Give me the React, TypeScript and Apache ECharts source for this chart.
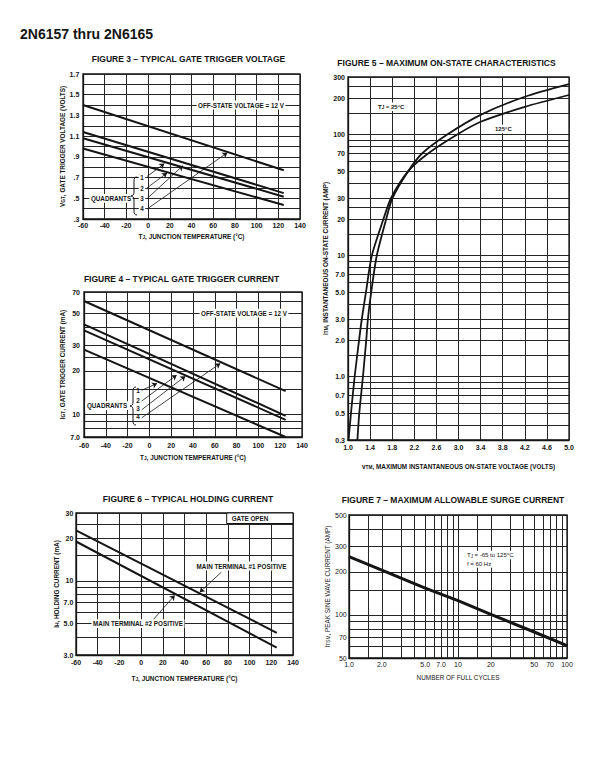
import React, { useEffect, useRef } from 'react';
import * as echarts from 'echarts';

const FONT = "'Liberation Sans', Arial, Helvetica, sans-serif";
const INK = '#151515';
const GRID_INK = '#262626';

// ---------- shared temperature axis ----------
const tempGrid = [-60, -40, -20, 0, 20, 40, 60, 80, 100, 120, 140];
const tempLabels = [-60, -40, -20, 0, 20, 40, 60, 80, 100, 120, 140];

// ---------- Figure 3: typical gate trigger voltage ----------
const f3Grid = [0.3, 0.4, 0.5, 0.6, 0.7, 0.8, 0.9, 1.0, 1.1, 1.2, 1.3, 1.4, 1.5, 1.6, 1.7];
const f3Labels = [0.3, 0.5, 0.7, 0.9, 1.1, 1.3, 1.5, 1.7];
const f3OffState = [[-60, 1.40], [125, 0.77]];
const f3LineA = [[-60, 1.14], [125, 0.55]];
const f3LineB = [[-60, 1.08], [125, 0.515]];
const f3LineC = [[-60, 0.98], [125, 0.435]];
const f3Arrows = [
  [[-1, 0.71], [15, 0.835]],
  [[-1, 0.6], [17.5, 0.745]],
  [[-1, 0.496], [32, 0.815]],
  [[-1, 0.396], [73, 0.94]],
];

// ---------- Figure 4: typical gate trigger current ----------
const f4Grid = [7, 8, 9, 10, 15, 20, 25, 30, 40, 50, 60, 70];
const f4Labels = [7, 10, 20, 30, 50, 70];
const f4OffState = [[-60, 60.7], [125, 14.5]];
const f4LineA = [[-60, 41.9], [125, 9.8]];
const f4LineB = [[-60, 38.1], [125, 9.2]];
const f4LineC = [[-60, 28.0], [125, 7.0]];
const f4Arrows = [
  [[-7, 14.7], [7, 16.4]],
  [[-7, 12.4], [25, 18.7]],
  [[-7, 10.8], [33, 18.4]],
  [[-7, 9.5], [65, 22.5]],
];

// ---------- Figure 5: maximum on-state characteristics ----------
const f5VGrid = [1.0, 1.4, 1.8, 2.2, 2.6, 3.0, 3.4, 3.8, 4.2, 4.6, 5.0];
const f5VLabels = [1.0, 1.4, 1.8, 2.2, 2.6, 3.0, 3.4, 3.8, 4.2, 4.6, 5.0];
const f5IGrid = [0.3, 0.4, 0.5, 0.6, 0.7, 0.8, 0.9, 1, 1.5, 2, 2.5, 3, 4, 5, 6, 7, 8, 9, 10, 15, 20, 25, 30, 40, 50, 60, 70, 80, 90, 100, 150, 200, 250, 300];
const f5ILabels = [0.3, 0.5, 0.7, 1, 2, 3, 5, 7, 10, 20, 30, 50, 70, 100, 200, 300];
const f5Tj25 = [[1.17, 0.3], [1.204, 0.5], [1.27, 1], [1.33, 2], [1.36, 3], [1.42, 5], [1.52, 10], [1.69, 20], [1.805, 30], [2.09, 50], [2.34, 70], [2.79, 100], [3.4, 146], [4.2, 206], [5.0, 262]];
const f5Tj125 = [[1.01, 0.3], [1.054, 0.5], [1.12, 1], [1.2, 2], [1.25, 3], [1.325, 5], [1.43, 10], [1.64, 20], [1.78, 30], [2.09, 50], [2.45, 70], [2.97, 100], [3.4, 128], [4.2, 170], [5.0, 213]];

// ---------- Figure 6: typical holding current ----------
const f6Grid = [3, 4, 5, 6, 7, 8, 9, 10, 15, 20, 25, 30];
const f6Labels = [3, 5, 7, 10, 20, 30];
const f6MT1 = [[-60, 22.6], [125, 4.3]];
const f6MT2 = [[-60, 18.9], [125, 3.38]];
const f6Arrows = [
  [[74, 11.5], [54, 8.3]],
  [[11, 5.3], [31, 7.9]],
];

// ---------- Figure 7: maximum allowable surge current ----------
const f7NGrid = [1, 1.5, 2, 3, 4, 5, 6, 7, 8, 9, 10, 15, 20, 30, 40, 50, 60, 70, 80, 90, 100];
const f7NLabels = [1, 2, 5, 7, 10, 20, 50, 70, 100];
const f7IGrid = [50, 60, 70, 80, 90, 100, 150, 200, 300, 400, 500];
const f7ILabels = [50, 70, 100, 200, 300, 500];
const f7Surge = [[1, 256], [2, 206], [5, 154], [10, 126], [20, 101], [50, 76], [100, 61]];

// brace shape for the "QUADRANTS" callouts
const Brace = echarts.graphic.extendPath(
  'M6,0 C3.6,0 3,1.5 3,4 L3,15 C3,17.5 2,19 0,19 C2,19 3,20.5 3,23 L3,34 C3,36.5 3.6,38 6,38',
  {}
);
echarts.graphic.registerShape('brace', Brace);

const fmtTemp = (v: number) => String(Math.round(v));
const fmtVolt3 = (v: number) => {
  const k = Math.round(v * 10);
  return v < 1 ? '.' + k : (k / 10).toFixed(1);
};
const fmtCurr = (v: number) => (v < 10 ? v.toFixed(1) : String(Math.round(v)));
const fmtOne = (v: number) => v.toFixed(1);

const RICH = (size: number, weight: string) => ({
  s: { fontSize: size * 0.75, fontWeight: weight, fontFamily: FONT, color: INK, verticalAlign: 'bottom', padding: [2, 0, 0, 0] },
});

type AxisCfg = {
  grid: number;
  type: 'value' | 'log';
  min: number;
  max: number;
  ticks: number[];
  labels: number[];
  fmt: (v: number) => string;
  name: string;
  nameGap: number;
  margin: number;
  weight?: string;
  labelSize?: number;
};

function axisOf(c: AxisCfg, position: 'bottom' | 'left') {
  const weight = c.weight || 'bold';
  const ax: any = {
    gridIndex: c.grid,
    type: c.type,
    min: c.min,
    max: c.max,
    position,
    axisLine: { show: true, onZero: false, lineStyle: { color: INK, width: 1.3 } },
    axisTick: { show: false, customValues: c.ticks },
    axisLabel: {
      show: true,
      customValues: c.labels,
      formatter: c.fmt,
      margin: c.margin,
      color: INK,
      fontSize: c.labelSize || 7,
      fontWeight: weight,
      fontFamily: FONT,
      hideOverlap: false,
      showMinLabel: true,
      showMaxLabel: true,
    },
    splitLine: { show: true, lineStyle: { color: GRID_INK, width: 1 } },
    minorTick: { show: false },
    minorSplitLine: { show: false },
    name: c.name,
    nameLocation: 'middle',
    nameGap: c.nameGap,
    nameTextStyle: { color: INK, fontSize: 6.4, fontWeight: weight, fontFamily: FONT, rich: RICH(6.4, weight) },
  };
  if (c.type === 'log') ax.logBase = 10;
  return ax;
}

function lineSeries(x: number, data: number[][], width: number, extra: any = {}) {
  return {
    type: 'line',
    xAxisIndex: x,
    yAxisIndex: x,
    data,
    showSymbol: false,
    symbol: 'none',
    silent: true,
    z: 3,
    lineStyle: { color: INK, width },
    ...extra,
  };
}

function arrowMarks(arrows: number[][][]) {
  return {
    markLine: {
      silent: true,
      animation: false,
      symbol: ['none', 'arrow'],
      symbolSize: 5,
      label: { show: false },
      lineStyle: { color: INK, width: 0.8, type: 'solid' },
      emphasis: { disabled: true },
      data: arrows.map(([a, b]) => [{ coord: a }, { coord: b }]),
    },
  };
}

let measureCtx: CanvasRenderingContext2D | null = null;
function measure(text: string, size: number, weight: string) {
  if (!measureCtx) measureCtx = document.createElement('canvas').getContext('2d');
  const plain = text.replace(/\{s\|([^}]*)\}/g, '$1');
  if (!measureCtx) return plain.length * size * 0.6;
  measureCtx.font = `${weight} ${size}px ${FONT}`;
  return measureCtx.measureText(plain).width;
}

function txt(x: number, y: number, text: string, o: any = {}) {
  const size = o.size || 6.3;
  const weight = o.weight || 'bold';
  const align = o.align || 'center';
  const els: any[] = [];
  if (o.bg !== false) {
    const w = measure(text, size, weight) + 3;
    const h = size + 2.5;
    const left = align === 'left' ? x - 1.5 : x - w / 2;
    els.push({
      type: 'rect',
      z: 48,
      silent: true,
      shape: { x: left, y: y - h / 2, width: w, height: h },
      style: { fill: '#fff', stroke: 'none' },
    });
  }
  els.push({
    type: 'text',
    x,
    y,
    z: 50,
    silent: true,
    style: {
      text,
      fill: INK,
      fontSize: size,
      fontWeight: weight,
      fontFamily: FONT,
      align,
      verticalAlign: 'middle',
      rich: RICH(size, weight),
    },
  });
  return els;
}

function titleOf(text: string, cx: number, cy: number) {
  return {
    text,
    left: cx,
    top: cy - 5,
    textAlign: 'center',
    padding: 0,
    textStyle: { fontSize: 8.5, fontWeight: 'bold', color: INK, fontFamily: FONT },
  };
}

function buildOption() {
  const grids = [
    { left: 83, top: 74, width: 217, height: 145 },
    { left: 84, top: 292, width: 218, height: 145 },
    { left: 348, top: 77, width: 221, height: 363 },
    { left: 76, top: 513, width: 217, height: 142 },
    { left: 349, top: 515, width: 218, height: 143 },
  ].map((g) => ({ ...g, show: true, borderColor: INK, borderWidth: 1.3, backgroundColor: 'transparent', containLabel: false }));

  const xAxis = [
    axisOf({ grid: 0, type: 'value', min: -60, max: 140, ticks: tempGrid, labels: tempLabels, fmt: fmtTemp, name: 'T{s|J}, JUNCTION TEMPERATURE (°C)', nameGap: 13.5, margin: 2.8 }, 'bottom'),
    axisOf({ grid: 1, type: 'value', min: -60, max: 140, ticks: tempGrid, labels: tempLabels, fmt: fmtTemp, name: 'T{s|J}, JUNCTION TEMPERATURE (°C)', nameGap: 16.5, margin: 4.8 }, 'bottom'),
    axisOf({ grid: 2, type: 'value', min: 1.0, max: 5.0, ticks: f5VGrid, labels: f5VLabels, fmt: fmtOne, name: 'v{s|TM}, MAXIMUM INSTANTANEOUS ON-STATE VOLTAGE (VOLTS)', nameGap: 22.5, margin: 4.3 }, 'bottom'),
    axisOf({ grid: 3, type: 'value', min: -60, max: 140, ticks: tempGrid, labels: tempLabels, fmt: fmtTemp, name: 'T{s|J}, JUNCTION TEMPERATURE (°C)', nameGap: 19.5, margin: 4.3 }, 'bottom'),
    axisOf({ grid: 4, type: 'log', min: 1, max: 100, ticks: f7NGrid, labels: f7NLabels, fmt: (v) => (v < 10 ? v.toFixed(1) : String(Math.round(v))), name: 'NUMBER OF FULL CYCLES', nameGap: 16.5, margin: 2.8, weight: 'normal' }, 'bottom'),
  ];

  const yAxis = [
    axisOf({ grid: 0, type: 'value', min: 0.3, max: 1.7, ticks: f3Grid, labels: f3Labels, fmt: fmtVolt3, name: 'V{s|GT}, GATE TRIGGER VOLTAGE (VOLTS)', nameGap: 17.5, margin: 3.7 }, 'left'),
    axisOf({ grid: 1, type: 'log', min: 7, max: 70, ticks: f4Grid, labels: f4Labels, fmt: fmtCurr, name: 'I{s|GT}, GATE TRIGGER CURRENT (mA)', nameGap: 17.5, margin: 4 }, 'left'),
    axisOf({ grid: 2, type: 'log', min: 0.3, max: 300, ticks: f5IGrid, labels: f5ILabels, fmt: fmtCurr, name: 'i{s|TM}, INSTANTANEOUS ON-STATE CURRENT (AMP)', nameGap: 14.5, margin: 3 }, 'left'),
    axisOf({ grid: 3, type: 'log', min: 3, max: 30, ticks: f6Grid, labels: f6Labels, fmt: fmtCurr, name: 'I{s|H}, HOLDING CURRENT (mA)', nameGap: 15.5, margin: 2.7 }, 'left'),
    axisOf({ grid: 4, type: 'log', min: 50, max: 500, ticks: f7IGrid, labels: f7ILabels, fmt: fmtCurr, name: 'I{s|TSM}, PEAK SINE WAVE CURRENT (AMP)', nameGap: 10.5, margin: 2.3, weight: 'normal' }, 'left'),
  ];

  const series = [
    lineSeries(0, f3OffState, 2, arrowMarks(f3Arrows)),
    lineSeries(0, f3LineA, 2),
    lineSeries(0, f3LineB, 2),
    lineSeries(0, f3LineC, 2),
    lineSeries(1, f4OffState, 2, arrowMarks(f4Arrows)),
    lineSeries(1, f4LineA, 2),
    lineSeries(1, f4LineB, 2),
    lineSeries(1, f4LineC, 2),
    lineSeries(2, f5Tj25, 1.8, { smooth: 0.25 }),
    lineSeries(2, f5Tj125, 1.8, { smooth: 0.25 }),
    lineSeries(3, f6MT1, 2, arrowMarks(f6Arrows)),
    lineSeries(3, f6MT2, 2),
    lineSeries(4, f7Surge, 3),
  ];

  const graphics: any[] = [
    // Figure 3 callouts
    ...txt(241, 105, 'OFF-STATE VOLTAGE = 12 V'),
    ...txt(111, 198.4, 'QUADRANTS'),
    { type: 'brace', x: 131, y: 177, z: 50, silent: true, style: { stroke: INK, fill: 'none', lineWidth: 1 } },
    ...txt(142, 177.6, '1'),
    ...txt(142, 188, '2'),
    ...txt(142, 198.4, '3'),
    ...txt(142, 208.7, '4'),
    // Figure 4 callouts
    ...txt(244, 313.2, 'OFF-STATE VOLTAGE = 12 V'),
    ...txt(107, 405.7, 'QUADRANTS'),
    { type: 'brace', x: 130, y: 387, z: 50, silent: true, style: { stroke: INK, fill: 'none', lineWidth: 1 } },
    ...txt(138, 390.7, '1', { bg: false }),
    ...txt(138, 400, '2', { bg: false }),
    ...txt(138, 408.3, '3', { bg: false }),
    ...txt(138, 416.7, '4', { bg: false }),
    // Figure 5 callouts
    ...txt(378, 106.7, 'T{s|J} = 25°C', { align: 'left', size: 6 }),
    ...txt(495, 129, '125°C', { align: 'left', size: 6 }),
    // Figure 6 callouts
    { type: 'rect', z: 49, silent: true, shape: { x: 226.7, y: 513, width: 66.3, height: 10.5 }, style: { fill: '#fff', stroke: INK, lineWidth: 1 } },
    ...txt(250, 518.3, 'GATE OPEN', { bg: false }),
    ...txt(241.5, 566, 'MAIN TERMINAL #1 POSITIVE'),
    ...txt(138, 623.7, 'MAIN TERMINAL #2 POSITIVE'),
    // Figure 7 callouts
    ...txt(467, 555, 'T{s|J} = -65 to 125°C', { align: 'left', size: 6, weight: 'normal' }),
    ...txt(467, 563.5, 'f = 60 Hz', { align: 'left', size: 6, weight: 'normal' }),
  ];

  return {
    animation: false,
    backgroundColor: '#fff',
    textStyle: { fontFamily: FONT },
    title: [
      { text: '2N6157 thru 2N6165', left: 20, top: 27, padding: 0, textStyle: { fontSize: 14, fontWeight: 'bold', color: INK, fontFamily: FONT } },
      titleOf('FIGURE 3 – TYPICAL GATE TRIGGER VOLTAGE', 188.5, 59),
      titleOf('FIGURE 4 – TYPICAL GATE TRIGGER CURRENT', 181.5, 279),
      titleOf('FIGURE 5 – MAXIMUM ON-STATE CHARACTERISTICS', 446.5, 63.5),
      titleOf('FIGURE 6 – TYPICAL HOLDING CURRENT', 188, 499),
      titleOf('FIGURE 7 – MAXIMUM ALLOWABLE SURGE CURRENT', 453, 500.7),
    ],
    grid: grids,
    xAxis,
    yAxis,
    series,
    graphic: { elements: graphics },
  };
}

export default function App() {
  const ref = useRef<HTMLDivElement>(null);
  useEffect(() => {
    if (!ref.current) return;
    const chart = echarts.init(ref.current, null, { renderer: 'svg' });
    chart.setOption(buildOption() as any);
    return () => chart.dispose();
  }, []);
  return (
    <div
      ref={ref}
      style={{ position: 'absolute', left: 0, top: 0, width: 610, height: 781, background: '#fff' }}
    />
  );
}
